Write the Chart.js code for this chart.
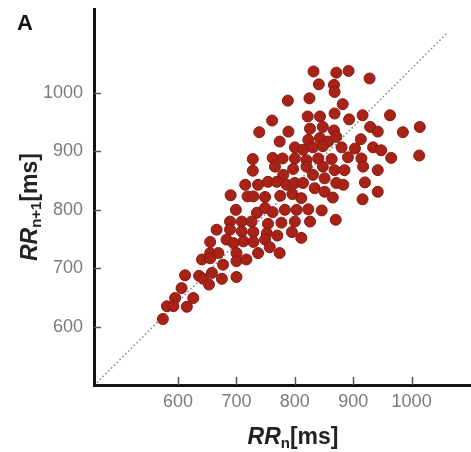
<!DOCTYPE html>
<html>
<head>
<meta charset="utf-8">
<script src="https://cdn.jsdelivr.net/npm/chart.js@4.4.1/dist/chart.umd.min.js"></script>
<style>
  html, body { margin: 0; padding: 0; background: #ffffff; }
  #wrap { width: 471px; height: 452px; position: relative; }
</style>
</head>
<body>
<div id="wrap"><canvas id="c" width="471" height="452"></canvas></div>
<script>
// Successive RR intervals (ms): RR_n on x, RR_n+1 on y
const rrN = [
  832, 871, 892, 928, 841, 867, 868, 788, 825, 882,
  761, 822, 843, 868, 893, 916, 963, 739, 789, 826,
  848, 867, 929, 942, 985, 1014, 774, 823, 843, 857,
  871, 913, 800, 814, 831, 848, 880, 903, 934, 948,
  728, 762, 779, 800, 820, 840, 863, 891, 914, 965,
  1013, 728, 766, 797, 820, 848, 868, 885, 917, 942,
  780, 831, 851, 715, 737, 754, 769, 786, 800, 814,
  834, 871, 883, 920, 942, 690, 719, 729, 749, 775,
  796, 811, 851, 865, 916, 699, 735, 749, 762, 783,
  803, 823, 846, 689, 709, 726, 754, 777, 800, 826,
  870, 666, 689, 709, 729, 752, 770, 795, 683, 695,
  712, 729, 749, 811, 655, 757, 737, 774, 655, 669,
  700, 641, 655, 677, 700, 717, 612, 636, 643, 658,
  653, 675, 700, 606, 595, 626, 581, 592, 615, 574
];
const rrN1 = [
  1037, 1035, 1038, 1025, 1015, 1014, 1002, 987, 991, 981,
  953, 960, 960, 965, 955, 962, 962, 933, 934, 939,
  942, 936, 942, 934, 933, 942, 917, 920, 923, 917,
  925, 921, 907, 903, 907, 909, 907, 905, 907, 902,
  887, 889, 888, 888, 885, 888, 887, 890, 888, 889,
  893, 867, 874, 870, 874, 874, 868, 868, 874, 868,
  860, 860, 854, 843, 843, 848, 848, 843, 846, 846,
  837, 846, 843, 847, 831, 825, 823, 823, 822, 824,
  827, 820, 831, 821, 818, 800, 795, 803, 796, 800,
  800, 801, 799, 780, 780, 780, 776, 778, 780, 780,
  783, 766, 766, 763, 762, 760, 756, 762, 749, 743,
  746, 745, 749, 752, 745, 736, 726, 726, 726, 726,
  726, 715, 717, 706, 712, 715, 688, 687, 682, 692,
  672, 682, 685, 666, 649, 649, 635, 635, 634, 613
];

// Dotted guide line endpoints
const guideX = [461, 1062];
const guideY = [504, 1104];

// Axis ticks and ranges
const xTickValues = [600, 700, 800, 900, 1000];
const yTickValues = [600, 700, 800, 900, 1000];
const xRange = [456, 1100];
const yRange = [500, 1144];

const FAMILY = "'Liberation Sans', Arial, Helvetica, sans-serif";

const points = rrN.map((x, i) => ({ x: x, y: rrN1[i] }));
const guide = guideX.map((x, i) => ({ x: x, y: guideY[i] }));

// Inward tick marks on both axes
const innerTicks = {
  id: 'innerTicks',
  afterDatasetsDraw(chart) {
    const ctx = chart.ctx;
    const xs = chart.scales.x, ys = chart.scales.y;
    const area = chart.chartArea;
    ctx.save();
    ctx.strokeStyle = '#555555';
    ctx.lineWidth = 1.5;
    xs.ticks.forEach(t => {
      const px = Math.round(xs.getPixelForValue(t.value)) + 0.5;
      ctx.beginPath();
      ctx.moveTo(px, area.bottom);
      ctx.lineTo(px, area.bottom - 8);
      ctx.stroke();
    });
    ys.ticks.forEach(t => {
      const py = Math.round(ys.getPixelForValue(t.value)) + 0.5;
      ctx.beginPath();
      ctx.moveTo(area.left, py);
      ctx.lineTo(area.left + 7, py);
      ctx.stroke();
    });
    ctx.restore();
  }
};

// Mixed-style text runs (italic symbol, subscript, units)
function runsWidth(ctx, runs) {
  let w = 0;
  runs.forEach(r => { ctx.font = r.font; w += ctx.measureText(r.text).width; });
  return w;
}
function drawRuns(ctx, runs, cx, baseline) {
  let x = cx - runsWidth(ctx, runs) / 2;
  runs.forEach(r => {
    ctx.font = r.font;
    ctx.fillText(r.text, x, baseline + (r.dy || 0));
    x += ctx.measureText(r.text).width;
  });
}

const axisTitles = {
  id: 'axisTitles',
  afterDraw(chart) {
    const ctx = chart.ctx;
    ctx.save();
    ctx.fillStyle = '#222222';
    ctx.textBaseline = 'alphabetic';
    ctx.textAlign = 'left';
    const big = 'bold 23px ' + FAMILY;
    const bigIt = 'italic bold 23px ' + FAMILY;
    const sub = 'bold 15px ' + FAMILY;

    drawRuns(ctx, [
      { text: 'RR', font: bigIt },
      { text: 'n', font: sub, dy: 4 },
      { text: '[ms]', font: big }
    ], 293, 444);

    ctx.save();
    ctx.translate(37, 207);
    ctx.rotate(-Math.PI / 2);
    drawRuns(ctx, [
      { text: 'RR', font: bigIt },
      { text: 'n+1', font: sub, dy: 4 },
      { text: '[ms]', font: big }
    ], 0, 0);
    ctx.restore();

    ctx.font = 'bold 22px ' + FAMILY;
    ctx.fillStyle = '#111111';
    ctx.fillText('A', 17, 30);
    ctx.restore();
  }
};

// Fixed axis box sizes with no extra label padding
function fixBox(s, key, size) {
  s[key] = size;
  s.paddingTop = 0;
  s.paddingBottom = 0;
  s.paddingLeft = 0;
  s.paddingRight = 0;
}

new Chart(document.getElementById('c'), {
  type: 'scatter',
  data: {
    datasets: [
      {
        label: 'RR',
        data: points,
        order: 1,
        pointRadius: 5.5,
        pointHoverRadius: 5.5,
        backgroundColor: '#A92217',
        borderColor: '#861912',
        borderWidth: 1
      },
      {
        label: 'guide',
        type: 'line',
        data: guide,
        order: 2,
        borderColor: '#8a8f96',
        borderWidth: 1.6,
        borderDash: [1.6, 2.4],
        pointRadius: 0,
        fill: false
      }
    ]
  },
  options: {
    responsive: false,
    animation: false,
    devicePixelRatio: 1,
    layout: { autoPadding: false, padding: { top: 9, right: 1, left: 0, bottom: 0 } },
    plugins: {
      legend: { display: false },
      tooltip: { enabled: false }
    },
    scales: {
      x: {
        type: 'linear',
        min: xRange[0],
        max: xRange[1],
        afterBuildTicks: s => { s.ticks = xTickValues.map(v => ({ value: v })); },
        afterFit: s => fixBox(s, 'height', 67),
        grid: { display: true, drawOnChartArea: false, drawTicks: false },
        border: { display: true, color: '#111111', width: 3 },
        ticks: {
          padding: 6,
          color: '#7a7a7a',
          font: { family: FAMILY, size: 18 },
          maxRotation: 0,
          callback: v => String(v)
        }
      },
      y: {
        type: 'linear',
        min: yRange[0],
        max: yRange[1],
        afterBuildTicks: s => { s.ticks = yTickValues.map(v => ({ value: v })); },
        afterFit: s => fixBox(s, 'width', 94),
        grid: { display: true, drawOnChartArea: false, drawTicks: false },
        border: { display: true, color: '#111111', width: 3 },
        ticks: {
          padding: 11,
          color: '#7a7a7a',
          font: { family: FAMILY, size: 18 },
          callback: v => String(v)
        }
      }
    }
  },
  plugins: [innerTicks, axisTitles]
});
</script>
</body>
</html>
